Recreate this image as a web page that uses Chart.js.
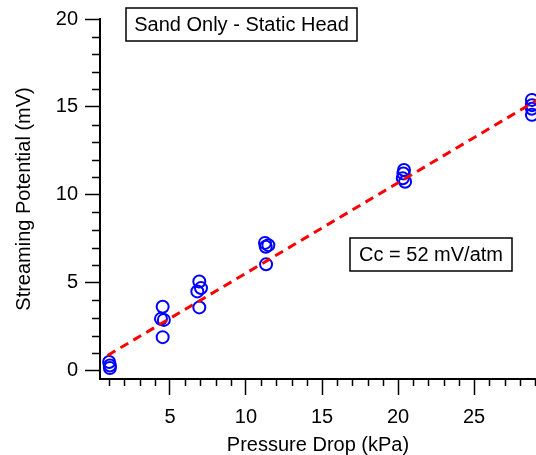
<!DOCTYPE html>
<html>
<head>
<meta charset="utf-8">
<script src="https://cdn.jsdelivr.net/npm/chart.js@4/dist/chart.umd.min.js"></script>
<style>
  html, body { margin: 0; padding: 0; background: #fff; }
  #wrap { width: 536px; height: 455px; }
</style>
</head>
<body>
<div id="wrap"><canvas id="chart" width="536" height="455"></canvas></div>
<script>
// --- data ---
const pressureKPa = [1.0, 1.05, 1.05, 4.52, 4.41, 4.6, 4.52, 6.93, 6.8, 7.04, 6.93, 11.25, 11.47, 11.32, 11.3, 20.39, 20.35, 20.31, 20.46, 28.8, 28.8, 28.8, 28.8];
const potentialMV = [0.5, 0.3, 0.15, 3.64, 2.95, 2.89, 1.91, 5.07, 4.51, 4.7, 3.6, 7.27, 7.14, 6.05, 7.05, 11.41, 11.22, 10.94, 10.75, 15.4, 15.1, 14.9, 14.55];
const fitX = [0.9, 29.5];
const fitY = [0.87, 15.57];
const xTicks = [5, 10, 15, 20, 25];
const yTicks = [0, 5, 10, 15, 20];
const titleText = 'Sand Only - Static Head';
const slopeText = 'Cc = 52 mV/atm';

const FONT = "'Liberation Sans', Arial, sans-serif";

// minor ticks every 1 unit, drawn through the scales
const minorTicks = {
    id: 'minorTicks',
    afterDraw(chart) {
        const { ctx, chartArea, scales: { x, y } } = chart;
        ctx.save();
        ctx.strokeStyle = '#000';
        ctx.lineWidth = 1.5;
        ctx.beginPath();
        for (let v = Math.ceil(x.min); v <= x.max; v++) {
            if (v % 5 === 0) continue;
            const px = Math.round(x.getPixelForValue(v)) + 0.5;
            ctx.moveTo(px, chartArea.bottom);
            ctx.lineTo(px, chartArea.bottom + 7);
        }
        for (let v = Math.ceil(y.min); v <= y.max; v++) {
            if (v % 5 === 0) continue;
            const py = Math.round(y.getPixelForValue(v)) + 0.5;
            ctx.moveTo(chartArea.left, py);
            ctx.lineTo(chartArea.left - 8, py);
        }
        ctx.stroke();
        ctx.restore();
    }
};

// boxed text labels
const boxedNotes = {
    id: 'boxedNotes',
    afterDraw(chart) {
        const { ctx } = chart;
        const notes = [
            { text: titleText, left: 126, top: 8, w: 231, h: 33 },
            { text: slopeText, left: 350, top: 238, w: 162, h: 33 }
        ];
        ctx.save();
        ctx.font = `20px ${FONT}`;
        ctx.textAlign = 'center';
        ctx.textBaseline = 'middle';
        notes.forEach(n => {
            ctx.fillStyle = '#fff';
            ctx.fillRect(n.left, n.top, n.w, n.h);
            ctx.strokeStyle = '#000';
            ctx.lineWidth = 1.5;
            ctx.strokeRect(n.left, n.top, n.w, n.h);
            ctx.fillStyle = '#000';
            ctx.fillText(n.text, n.left + n.w / 2, n.top + n.h / 2 + 1);
        });
        ctx.restore();
    }
};

const points = pressureKPa.map((p, i) => ({ x: p, y: potentialMV[i] }));
const fitLine = fitX.map((p, i) => ({ x: p, y: fitY[i] }));

new Chart(document.getElementById('chart'), {
    type: 'scatter',
    data: {
        datasets: [
            {
                type: 'line', data: fitLine, order: 0,
                borderColor: '#ff0000', borderWidth: 3, borderDash: [9, 6],
                pointRadius: 0, fill: false, tension: 0
            },
            {
                data: points, order: 1,
                pointStyle: 'circle', pointRadius: 6, pointBorderWidth: 2,
                borderColor: '#0000ff', backgroundColor: 'rgba(0,0,0,0)'
            }
        ]
    },
    options: {
        responsive: false,
        animation: false,
        devicePixelRatio: 1,
        layout: { autoPadding: false, padding: { top: 16, right: 0, bottom: 0, left: 0 } },
        plugins: { legend: { display: false }, tooltip: { enabled: false } },
        scales: {
            x: {
                type: 'linear', min: 0.4, max: 29.07,
                afterBuildTicks: s => { s.ticks = xTicks.map(v => ({ value: v })); },
                afterFit: s => { s.height = 76; s.paddingLeft = 0; s.paddingRight = 0; },
                border: { color: '#000', width: 2 },
                grid: { drawOnChartArea: false, tickLength: 16, tickColor: '#000', tickWidth: 1.5 },
                ticks: { color: '#000', font: { family: FONT, size: 20 }, padding: 10, maxRotation: 0 },
                title: { display: true, text: 'Pressure Drop (kPa)', color: '#000', font: { family: FONT, size: 20 }, padding: { top: 0, bottom: -2 } }
            },
            y: {
                type: 'linear', min: -0.47, max: 20,
                afterBuildTicks: s => { s.ticks = yTicks.map(v => ({ value: v })); },
                afterFit: s => { s.width = 100; },
                border: { color: '#000', width: 2 },
                grid: { drawOnChartArea: false, tickLength: 15, tickColor: '#000', tickWidth: 1.5 },
                ticks: { color: '#000', font: { family: FONT, size: 20 }, padding: 7 },
                title: { display: true, text: 'Streaming Potential (mV)', color: '#000', font: { family: FONT, size: 20 }, padding: { top: 12, bottom: 0 } }
            }
        }
    },
    plugins: [minorTicks, boxedNotes]
});
</script>
</body>
</html>
